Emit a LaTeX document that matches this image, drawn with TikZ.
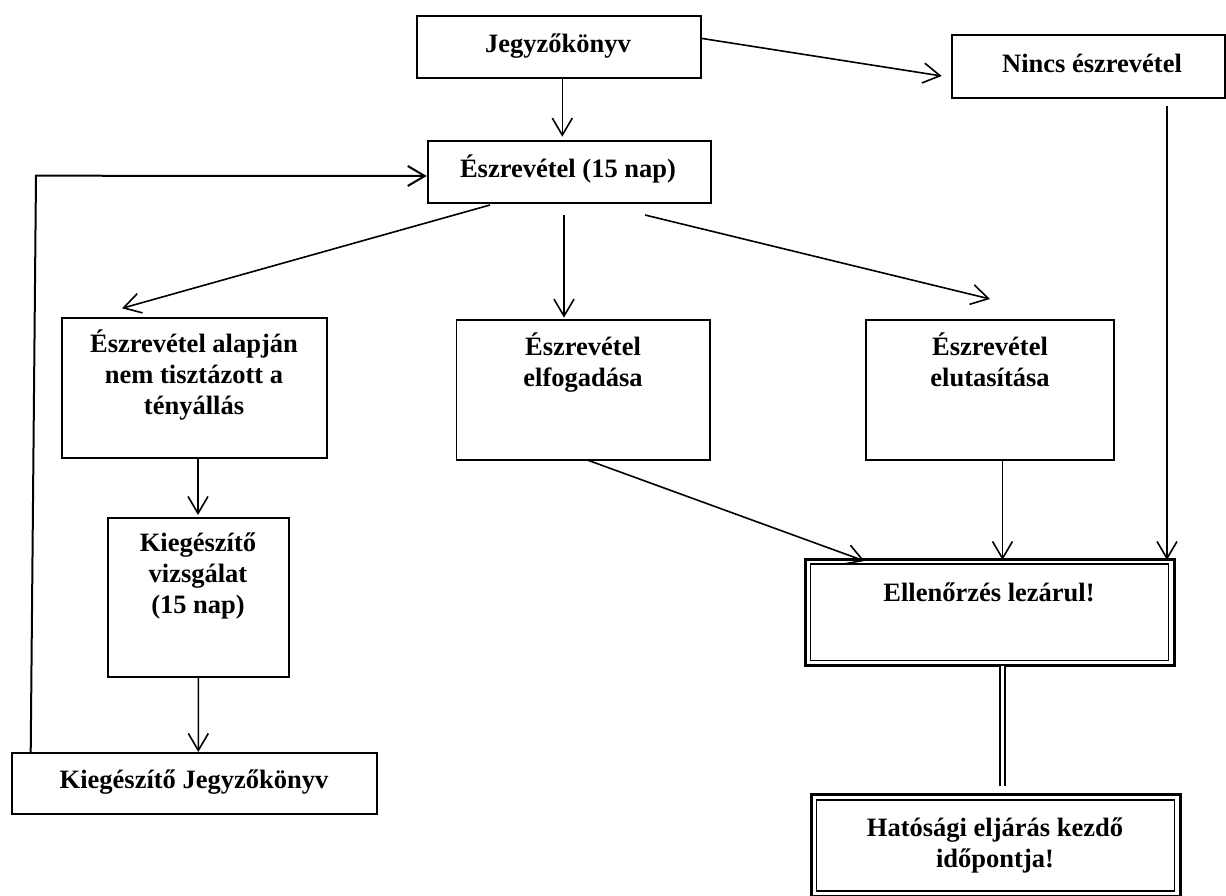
\documentclass[tikz,border=0pt]{standalone}
\usepackage{fontspec}
\setmainfont{Liberation Serif}
\usetikzlibrary{arrows.meta,calc}
\begin{document}
\begin{tikzpicture}[x=1pt,y=-1pt,
  box/.style={draw, line width=1.8pt, rectangle, inner sep=0pt, outer sep=0pt},
  dbox/.style={draw, line width=3pt, rectangle, inner sep=0pt, outer sep=0pt},
  innerline/.style={line width=1.6pt},
  txt/.style={font=\fontsize{26.5}{31}\selectfont\bfseries, inner sep=0pt, outer sep=0pt, align=center, anchor=base},
  conn/.style={line width=1.6pt, -{Straight Barb[length=17pt,width=20pt]}},
  loopconn/.style={line width=2pt, -{Straight Barb[length=17pt,width=20pt]}},
  dconn/.style={double, line width=2pt, double distance=3pt},
]
\useasboundingbox (0,0) rectangle (1226,896);

% boxes
\node[box, minimum width=283.7pt, minimum height=62pt]   (jegy)  at (559.15,46.7) {};
\node[box, minimum width=273.3pt, minimum height=62.7pt] (nincs) at (1088.35,66.35) {};
\node[box, minimum width=282.7pt, minimum height=62.3pt] (eszr)  at (569.65,172.15) {};
\node[box, minimum width=264.7pt, minimum height=140pt]  (alap)  at (194.35,388.3) {};
\node[box, minimum width=253.5pt, minimum height=140pt]  (elf)   at (583.25,390) {};
\node[box, minimum width=247.7pt, minimum height=140pt]  (elut)  at (990.15,390) {};
\node[box, minimum width=181.3pt, minimum height=158.4pt] (kvizs) at (198.35,597.5) {};
\node[box, minimum width=365pt, minimum height=61.6pt]   (kjegy) at (194.2,783.5) {};
\node[dbox, minimum width=369pt, minimum height=106.7pt] (ell)   at (989.5,612.35) {};
\node[dbox, minimum width=369pt, minimum height=102pt]   (hat)   at (995.5,845.5) {};
\draw[innerline] ($(ell.north west)+(5.5,5.2)$) rectangle ($(ell.south east)+(-5.7,-5.2)$);
\draw[innerline] ($(hat.north west)+(5.6,5.6)$) rectangle ($(hat.south east)+(-5.6,-5.6)$);

% texts (base anchor = baseline of the last line)
\node[txt] (jegyT)  at (558,52.5) {Jegyzőkönyv};
\node[txt] (nincsT) at (1092,73) {Nincs észrevétel};
\node[txt] (eszrT)  at (568,177.5) {Észrevétel (15 nap)};
\node[txt] (alapT)  at (194,414.5) {Észrevétel alapján\\nem tisztázott a\\tényállás};
\node[txt] (elfT)   at (583,386) {Észrevétel\\elfogadása};
\node[txt] (elutT)  at (990,386) {Észrevétel\\elutasítása};
\node[txt] (kvizsT) at (198,613.5) {Kiegészítő\\vizsgálat\\(15 nap)};
\node[txt] (kjegyT) at (194,788.5) {Kiegészítő Jegyzőkönyv};
\node[txt] (ellT)   at (989,601) {Ellenőrzés lezárul!};
\node[txt] (hatT)   at (995,867.5) {Hatósági eljárás kezdő\\időpontja!};

% connectors
\coordinate (loopc) at (36,175.7);
\draw[conn] ($(jegy.north east)+(0,22.6)$) -- ($(nincs.north west)+(-10,41)$);
\draw[conn] ($(jegy.south)+(3.15,0)$) -- ($(eszr.north)+(-7.35,-4.3)$);
\draw[loopconn] ($(kjegy.north west)+(19,0)$) -- (loopc) -- ($(eszr.west)+(-1.6,3.85)$);
\draw[conn] ($(eszr.south west)+(61.7,1.7)$) -- ($(alap.north west)+(60,-10)$);
\draw[conn] ($(eszr.south)+(-5.65,11.7)$) -- ($(elf.north)+(-19.25,-2.3)$);
\draw[conn] ($(eszr.south)+(75.35,11.7)$) -- ($(elut.north)+(-0.15,-21)$);
\draw[conn] ($(alap.south)+(3.65,0)$) -- ($(kvizs.north)+(-0.35,-3.3)$);
\draw[conn] (kvizs.south) -- ($(kjegy.north)+(4.1,-0.7)$);
\draw[conn] ($(elf.south)+(4,0)$) -- ($(ell.north west)+(59.5,2)$);
\draw[conn] ($(elut.south)+(12.35,0)$) -- ($(ell.north)+(13,1)$);
\draw[conn] ($(nincs.south)+(78.65,8.3)$) -- ($(ell.north east)+(-7,1)$);
\draw[dconn] ($(ell.south)+(13.2,0)$) -- ($(hat.north)+(7.2,-8.5)$);
\end{tikzpicture}
\end{document}
